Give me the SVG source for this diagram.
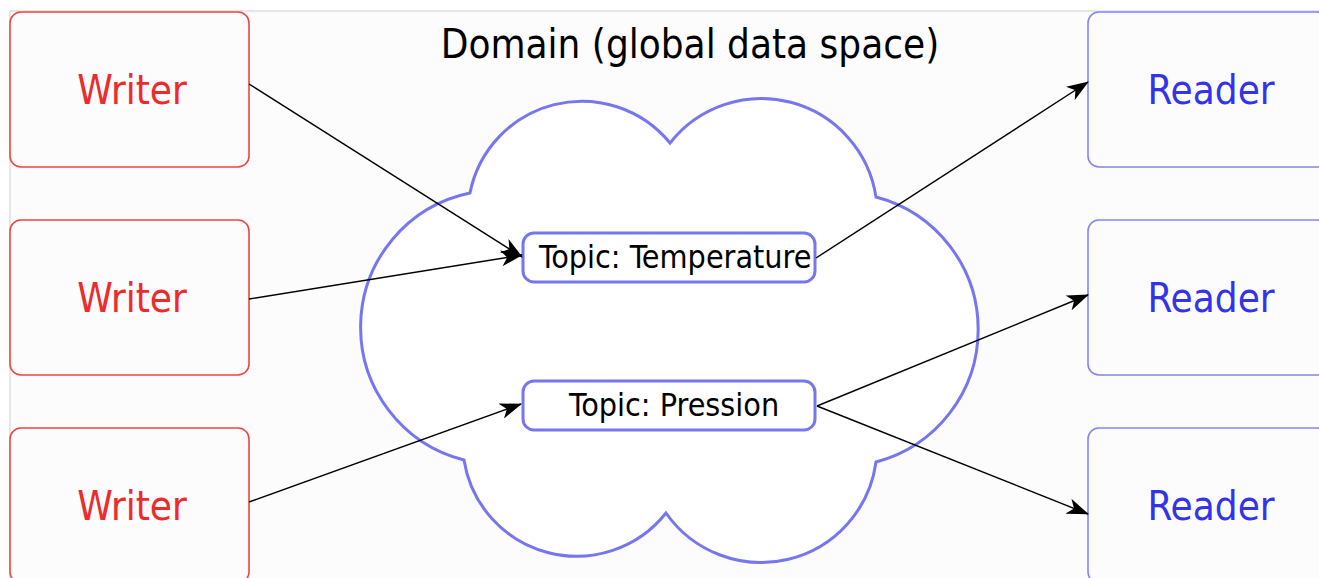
<svg xmlns="http://www.w3.org/2000/svg" width="1319" height="578" viewBox="0 0 1319 578">
<defs>
<style>
.bg{fill:#fcfcfc;stroke:#cfcfcf;stroke-width:1}
.writer rect{fill:#fcfcfc;stroke:#ee4444;stroke-width:1.6}
.writer text{fill:#ee2a2a;font-family:"DejaVu Sans Condensed","DejaVu Sans",sans-serif;font-size:40px;text-anchor:middle}
.reader rect{fill:#fcfcfc;stroke:#8484ee;stroke-width:1.6}
.reader text{fill:#3333ee;font-family:"DejaVu Sans Condensed","DejaVu Sans",sans-serif;font-size:40px;text-anchor:middle}
.cloud{fill:#ffffff;stroke:#7676f0;stroke-width:3}
.topic rect{fill:#ffffff;stroke:#7676f0;stroke-width:3}
.topic text{fill:#000;font-family:"DejaVu Sans Condensed","DejaVu Sans",sans-serif;font-size:32px}
.title{fill:#000;font-family:"DejaVu Sans Condensed","DejaVu Sans",sans-serif;font-size:40px;text-anchor:middle}
.conn line{stroke:#000;stroke-width:1.4;marker-end:url(#arr)}
</style>
<marker id="arr" viewBox="0 0 22 16" refX="21" refY="8" markerWidth="22" markerHeight="16" markerUnits="userSpaceOnUse" orient="auto">
<path d="M0,0 L22,8 L0,16 L6,8 Z" fill="#000"/>
</marker>
</defs>
<rect class="bg" x="10" y="11" width="1320" height="580"/>
<text class="title" x="690" y="58">Domain (global data space)</text>
<g id="cloud">
<path class="cloud" d="M470,193 A114,114 0 0 1 670,143 A116,116 0 0 1 876,197 A137,137 0 0 1 876,462 A116,116 0 0 1 666,513 A114,114 0 0 1 464,460 A137,137 0 0 1 470,193 Z"/>
</g>
<g id="writer1" class="writer"><rect x="10" y="12" width="239" height="155" rx="11"/><text x="132" y="104">Writer</text></g>
<g id="writer2" class="writer"><rect x="10" y="220" width="239" height="155" rx="11"/><text x="132" y="312">Writer</text></g>
<g id="writer3" class="writer"><rect x="10" y="428" width="239" height="155" rx="11"/><text x="132" y="520">Writer</text></g>
<g id="reader1" class="reader"><rect x="1088" y="12" width="240" height="155" rx="11"/><text x="1211" y="104">Reader</text></g>
<g id="reader2" class="reader"><rect x="1088" y="220" width="240" height="155" rx="11"/><text x="1211" y="312">Reader</text></g>
<g id="reader3" class="reader"><rect x="1088" y="428" width="240" height="155" rx="11"/><text x="1211" y="520">Reader</text></g>
<g id="topic-temperature" class="topic"><rect x="523" y="233" width="292" height="49" rx="11"/><text x="539" y="268">Topic: Temperature</text></g>
<g id="topic-pression" class="topic"><rect x="523" y="381" width="292" height="49" rx="11"/><text x="569" y="416">Topic: Pression</text></g>
<g id="connectors" class="conn">
<line x1="249" y1="84" x2="522" y2="257"/>
<line x1="249" y1="299" x2="522" y2="255"/>
<line x1="249" y1="502" x2="521" y2="404"/>
<line x1="816" y1="258" x2="1088" y2="82"/>
<line x1="817" y1="406" x2="1088" y2="295"/>
<line x1="817" y1="406" x2="1088" y2="514"/>
</g>
</svg>
